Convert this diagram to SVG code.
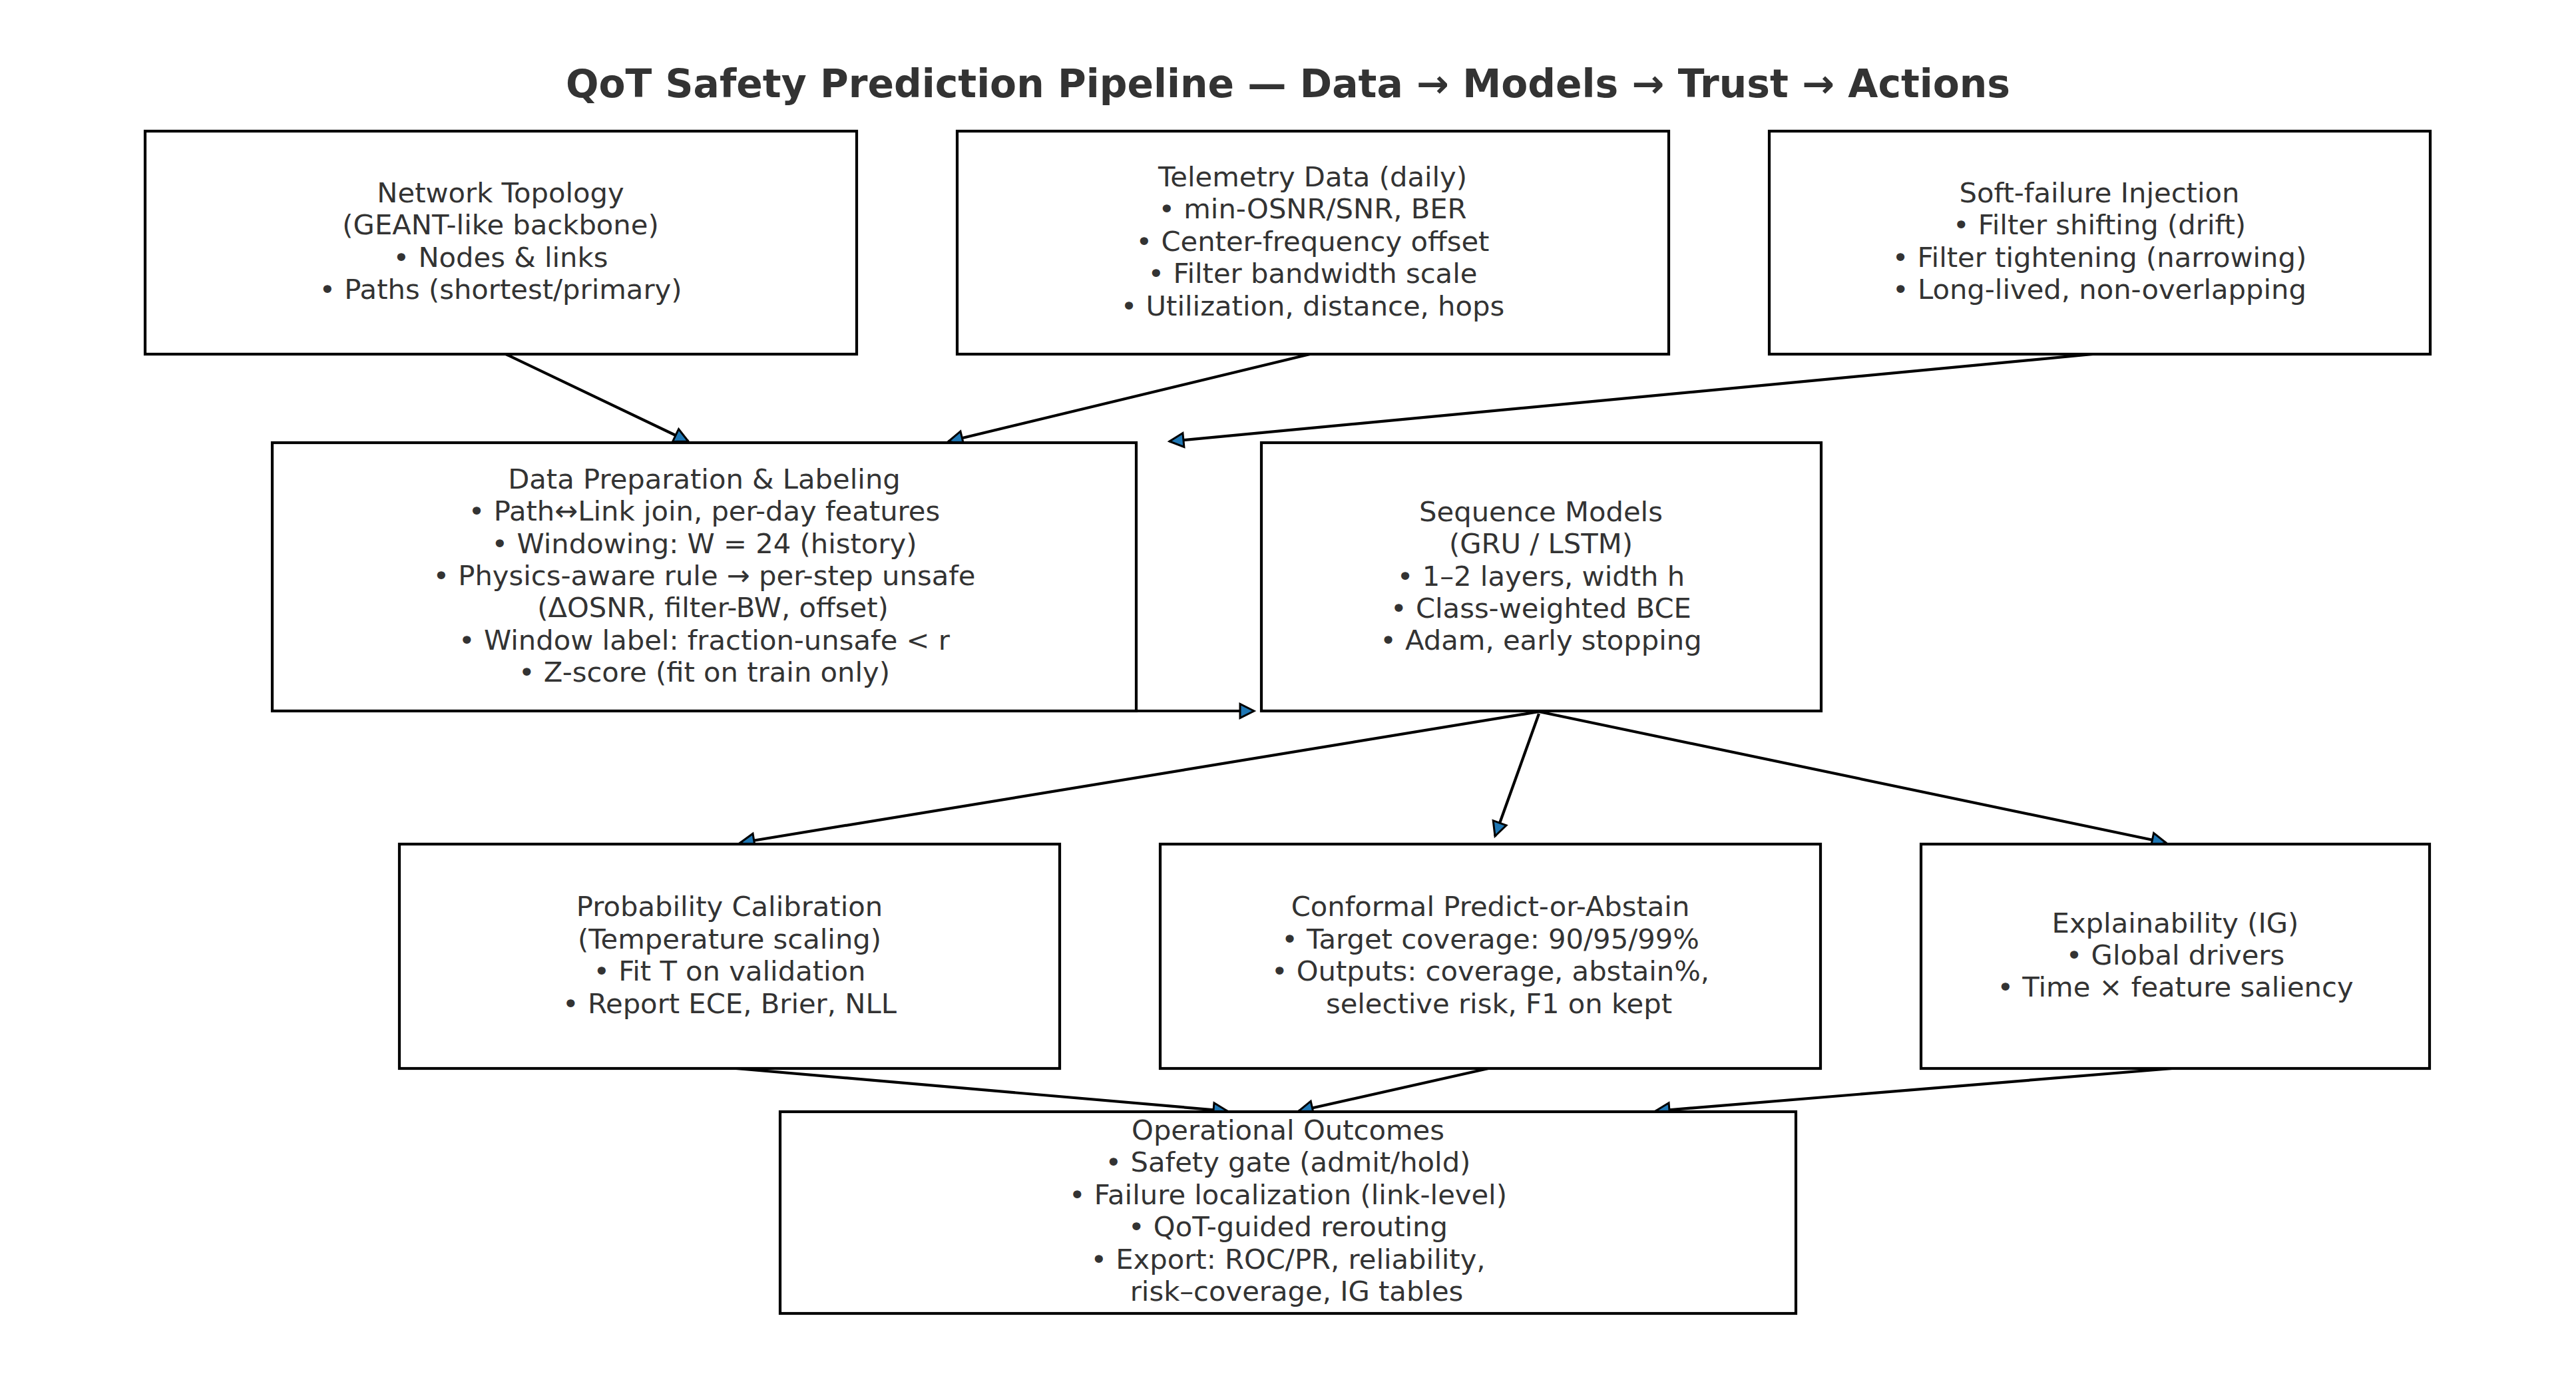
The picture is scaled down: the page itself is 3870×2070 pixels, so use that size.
<svg xmlns="http://www.w3.org/2000/svg" width="3870" height="2070" viewBox="0 0 3870 2070">
<style>
.box{fill:#fff;stroke:#000;stroke-width:4.2}
.t{font-family:"DejaVu Sans",sans-serif;font-size:41.7px;fill:#333;text-anchor:middle}
.title{font-family:"DejaVu Sans",sans-serif;font-size:58.3px;font-weight:bold;fill:#333;text-anchor:middle}
.c{stroke:#000;stroke-width:4.2;fill:none}
</style>
<defs>
<marker id="ah" markerUnits="userSpaceOnUse" viewBox="-30 -17 36 34" markerWidth="36" markerHeight="34" refX="0" refY="0" orient="auto">
<path d="M0,0 L-21,-10.5 L-21,10.5 Z" fill="#1f77b4" stroke="#000" stroke-width="3" stroke-linejoin="miter"/>
</marker>
</defs>
<rect width="3870" height="2070" fill="#fff"/>
<text class="title" x="1935" y="146">QoT Safety Prediction Pipeline — Data → Models → Trust → Actions</text>

<g id="connectors">
<line class="c" x1="760" y1="532" x2="1034" y2="663" marker-end="url(#ah)"/>
<line class="c" x1="1968" y1="532" x2="1425" y2="663" marker-end="url(#ah)"/>
<line class="c" x1="3144" y1="532" x2="1757" y2="663" marker-end="url(#ah)"/>
<line class="c" x1="1705" y1="1068" x2="1884" y2="1068" marker-end="url(#ah)"/>
<line class="c" x1="2312" y1="1069" x2="1112" y2="1266" marker-end="url(#ah)"/>
<line class="c" x1="2312" y1="1072" x2="2246" y2="1256" marker-end="url(#ah)"/>
<line class="c" x1="2312" y1="1069" x2="3254" y2="1266" marker-end="url(#ah)"/>
<line class="c" x1="1106" y1="1605" x2="1844" y2="1669" marker-end="url(#ah)"/>
<line class="c" x1="2236" y1="1605" x2="1951" y2="1669" marker-end="url(#ah)"/>
<line class="c" x1="3263" y1="1605" x2="2487" y2="1669" marker-end="url(#ah)"/>
</g>

<g id="topology">
<rect class="box" x="218" y="197" width="1069" height="335"/>
<text class="t" x="752" y="304">Network Topology</text>
<text class="t" x="752" y="352.4">(GEANT-like backbone)</text>
<text class="t" x="752" y="400.8">• Nodes &amp; links</text>
<text class="t" x="752" y="449.2">• Paths (shortest/primary)</text>
</g>

<g id="telemetry">
<rect class="box" x="1438" y="197" width="1069" height="335"/>
<text class="t" x="1972" y="280">Telemetry Data (daily)</text>
<text class="t" x="1972" y="328.4">• min-OSNR/SNR, BER</text>
<text class="t" x="1972" y="376.8">• Center-frequency offset</text>
<text class="t" x="1972" y="425.2">• Filter bandwidth scale</text>
<text class="t" x="1972" y="473.6">• Utilization, distance, hops</text>
</g>

<g id="softfailure">
<rect class="box" x="2658" y="197" width="993" height="335"/>
<text class="t" x="3154" y="304">Soft-failure Injection</text>
<text class="t" x="3154" y="352.4">• Filter shifting (drift)</text>
<text class="t" x="3154" y="400.8">• Filter tightening (narrowing)</text>
<text class="t" x="3154" y="449.2">• Long-lived, non-overlapping</text>
</g>

<g id="dataprep">
<rect class="box" x="409" y="665" width="1298" height="403"/>
<text class="t" x="1058" y="733.8">Data Preparation &amp; Labeling</text>
<text class="t" x="1058" y="782.2">• Path↔Link join, per-day features</text>
<text class="t" x="1058" y="830.6">• Windowing: W = 24 (history)</text>
<text class="t" x="1058" y="879">• Physics-aware rule → per-step unsafe</text>
<text class="t" x="1071" y="927.4">(ΔOSNR, filter-BW, offset)</text>
<text class="t" x="1058" y="975.8">• Window label: fraction-unsafe &lt; r</text>
<text class="t" x="1058" y="1024.2">• Z-score (fit on train only)</text>
</g>

<g id="sequence">
<rect class="box" x="1895" y="665" width="841" height="403"/>
<text class="t" x="2315" y="782.7">Sequence Models</text>
<text class="t" x="2315" y="831.1">(GRU / LSTM)</text>
<text class="t" x="2315" y="879.5">• 1–2 layers, width h</text>
<text class="t" x="2315" y="927.9">• Class-weighted BCE</text>
<text class="t" x="2315" y="976.3">• Adam, early stopping</text>
</g>

<g id="calibration">
<rect class="box" x="600" y="1268" width="992" height="337"/>
<text class="t" x="1096" y="1376.4">Probability Calibration</text>
<text class="t" x="1096" y="1424.8">(Temperature scaling)</text>
<text class="t" x="1096" y="1473.2">• Fit T on validation</text>
<text class="t" x="1096" y="1521.6">• Report ECE, Brier, NLL</text>
</g>

<g id="conformal">
<rect class="box" x="1743" y="1268" width="992" height="337"/>
<text class="t" x="2239" y="1376.4">Conformal Predict-or-Abstain</text>
<text class="t" x="2239" y="1424.8">• Target coverage: 90/95/99%</text>
<text class="t" x="2239" y="1473.2">• Outputs: coverage, abstain%,</text>
<text class="t" x="2252" y="1521.6">selective risk, F1 on kept</text>
</g>

<g id="explainability">
<rect class="box" x="2886" y="1268" width="764" height="337"/>
<text class="t" x="3268" y="1400.6">Explainability (IG)</text>
<text class="t" x="3268" y="1449">• Global drivers</text>
<text class="t" x="3268" y="1497.4">• Time × feature saliency</text>
</g>

<g id="outcomes">
<rect class="box" x="1172" y="1670" width="1526" height="303"/>
<text class="t" x="1935" y="1712">Operational Outcomes</text>
<text class="t" x="1935" y="1760.4">• Safety gate (admit/hold)</text>
<text class="t" x="1935" y="1808.8">• Failure localization (link-level)</text>
<text class="t" x="1935" y="1857.2">• QoT-guided rerouting</text>
<text class="t" x="1935" y="1905.6">• Export: ROC/PR, reliability,</text>
<text class="t" x="1948" y="1954">risk–coverage, IG tables</text>
</g>
</svg>
